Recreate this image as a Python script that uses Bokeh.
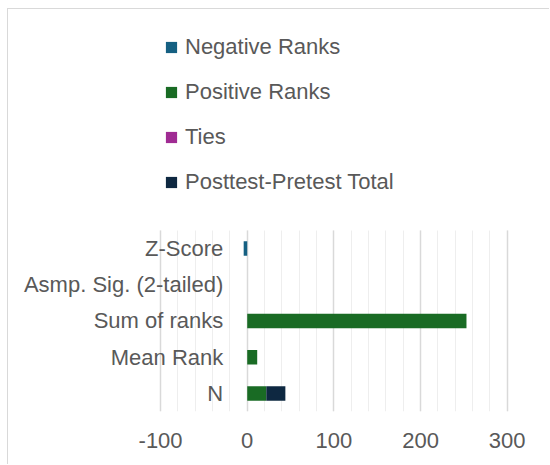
from bokeh.plotting import figure
from bokeh.models import ColumnDataSource, Range1d, FixedTicker, LabelSet, Legend, LegendItem
from bokeh.core.properties import value
from bokeh.embed import file_html
from bokeh.resources import INLINE

# Data (categories listed bottom to top)
categories = ["N", "Mean Rank", "Sum of ranks", "Asmp. Sig. (2-tailed)", "Z-Score"]
negative_ranks = [0, 0, 0, 0, -4.107]
positive_ranks = [22, 11.5, 253, 0, 0]
ties = [0, 0, 0, 0, 0]
posttest_pretest_total = [22, 0, 0, 0, 0]
series_names = ["Negative Ranks", "Positive Ranks", "Ties", "Posttest-Pretest Total"]
series_keys = ["neg", "pos", "ties", "total"]
colors = ["#156082", "#196B24", "#A02B93", "#0E2841"]
x_ticks = [-100, 0, 100, 200, 300]
x_minor_ticks = [-100, -80, -60, -40, -20, 0, 20, 40, 60, 80, 100, 120, 140, 160,
                 180, 200, 220, 240, 260, 280, 300]

FONT = "Liberation Sans"
TXT = "#595959"
FS = "22px"

# category slot positions (0 = bottom category)
cat_pos = list(range(len(categories)))

src = ColumnDataSource(dict(cat=categories, y=cat_pos, neg=negative_ranks, pos=positive_ranks,
                            ties=ties, total=posttest_pretest_total))

p = figure(width=542, height=456, output_backend="svg", toolbar_location=None,
           y_axis_location=None,
           y_range=Range1d(-0.5, 10.6),
           x_range=Range1d(-275.5, 303.8),
           min_border_left=0, min_border_right=40, min_border_top=0, min_border_bottom=54,
           styles={"margin-left": "7px", "margin-top": "8px",
                   "border-top": "1px solid #d9d9d9", "border-left": "1px solid #d9d9d9"})
p.outline_line_color = None
p.background_fill_color = "white"
p.border_fill_color = "white"

renderers = p.hbar_stack(series_keys, y="y", height=0.4, color=colors, source=src, line_width=0)

p.ygrid.grid_line_color = None

labels = LabelSet(x=0, y="y", text="cat", source=src, x_offset=-24,
                  text_align="right", text_baseline="middle",
                  text_font=value(FONT), text_font_size=value(FS), text_color=value(TXT))
p.add_layout(labels)

# x axis
p.xaxis.ticker = FixedTicker(ticks=x_ticks, minor_ticks=x_minor_ticks)
p.xaxis.major_label_overrides = {t: str(t) for t in x_ticks}
p.xaxis.axis_line_color = None
p.xaxis.major_tick_line_color = None
p.xaxis.minor_tick_line_color = None
p.xaxis.major_label_standoff = 15
p.xaxis.major_label_text_font = FONT
p.xaxis.major_label_text_font_size = FS
p.xaxis.major_label_text_color = TXT

p.xgrid.grid_line_color = "#d9d9d9"
p.xgrid.grid_line_width = 1.5
p.xgrid.minor_grid_line_color = "#eeeeee"
p.xgrid.minor_grid_line_width = 1
p.xgrid.bounds = (-100, 300)
p.xgrid.cross_bounds = (-0.5, len(categories) - 0.5)

legend = Legend(items=[LegendItem(label=n, renderers=[r]) for n, r in zip(series_names, renderers)],
                location=(156, 216), orientation="vertical",
                glyph_width=14, glyph_height=14, label_standoff=7,
                label_height=26, spacing=19, padding=0, margin=0,
                border_line_color=None, background_fill_alpha=0,
                label_text_font=FONT, label_text_font_size=FS, label_text_color=TXT)
p.add_layout(legend, "center")

open("out.html", "w").write(file_html(p, INLINE))
